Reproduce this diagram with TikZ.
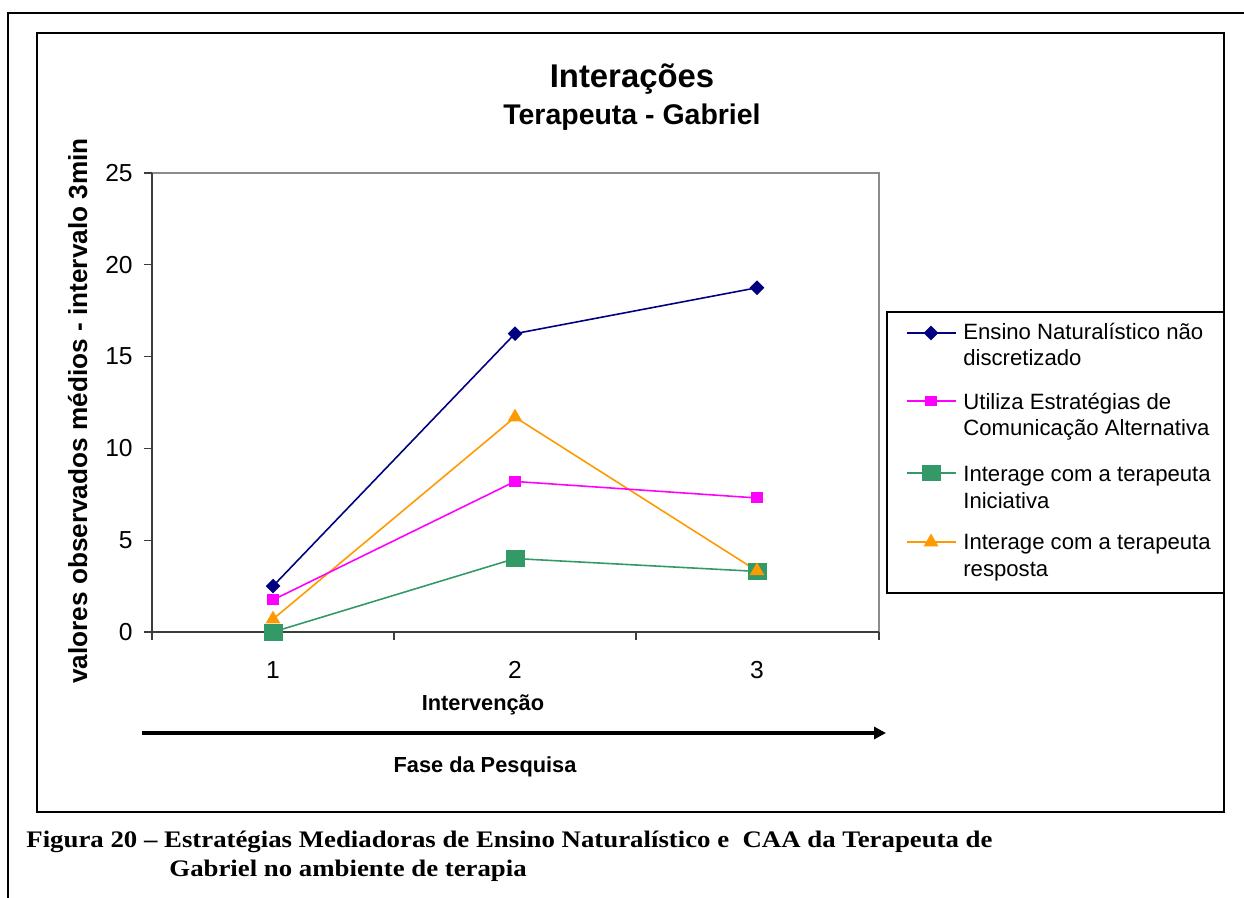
\documentclass[tikz,border=0pt]{standalone}
\usepackage{fontspec}
\setmainfont{Liberation Serif}
\setsansfont{Liberation Sans}
\usetikzlibrary{shapes.geometric, arrows.meta}

\definecolor{serieBlue}{HTML}{000080}
\definecolor{seriePink}{HTML}{FF00FF}
\definecolor{serieGreen}{HTML}{339966}
\definecolor{serieOrange}{HTML}{FF9900}
\definecolor{frameGray}{HTML}{8C8C8C}
\definecolor{axisGray}{HTML}{3C3C3C}

\tikzstyle{outerFrame} = [draw=black, line width=1.1pt]
\tikzstyle{chartFrame} = [draw=black, line width=0.7pt]
\tikzstyle{plotFrame} = [draw=frameGray, line width=0.6pt]
\tikzstyle{axisLine} = [draw=axisGray, line width=0.7pt]
\tikzstyle{titleText} = [text=black, inner sep=0pt,
	font=\sffamily\bfseries\fontsize{18.7}{22}\selectfont]
\tikzstyle{subtitleText} = [text=black, inner sep=0pt,
	font=\sffamily\bfseries\fontsize{16.2}{19}\selectfont]
\tikzstyle{tickText} = [text=black, inner sep=0pt,
	font=\sffamily\fontsize{14}{16}\selectfont]
\tikzstyle{axisTitle} = [text=black, inner sep=0pt,
	font=\sffamily\bfseries\fontsize{12.4}{15}\selectfont]
\tikzstyle{yAxisTitle} = [text=black, inner sep=0pt,
	font=\sffamily\bfseries\fontsize{14.9}{17}\selectfont]
\tikzstyle{legendText} = [text=black, inner sep=0pt, align=left,
	font=\sffamily\fontsize{12.6}{15.3}\selectfont]
\tikzstyle{captionText} = [text=black, inner sep=0pt, xscale=1.13,
	font=\rmfamily\bfseries\fontsize{13.5}{15}\selectfont]
\tikzstyle{phaseArrow} = [draw=black, line width=2.3pt,
	-{Triangle[length=0.24cm, width=0.24cm]}]
\tikzstyle{blueLine} = [draw=serieBlue, line width=0.9pt]
\tikzstyle{pinkLine} = [draw=seriePink, line width=0.9pt]
\tikzstyle{greenLine} = [draw=serieGreen, line width=0.9pt]
\tikzstyle{orangeLine} = [draw=serieOrange, line width=0.9pt]
\tikzstyle{blueMark} = [shape=diamond, aspect=1, fill=serieBlue, inner sep=0pt,
	minimum size=0.3cm]
\tikzstyle{pinkMark} = [shape=rectangle, fill=seriePink, inner sep=0pt,
	minimum width=0.24cm, minimum height=0.22cm]
\tikzstyle{greenMark} = [shape=rectangle, fill=serieGreen, inner sep=0pt,
	minimum width=0.38cm, minimum height=0.34cm]
\tikzstyle{orangeMark} = [shape=regular polygon, regular polygon sides=3,
	fill=serieOrange, inner sep=0pt, minimum size=0.34cm]

\begin{document}
\begin{tikzpicture}[x=0.02cm, y=-0.02cm]
  \useasboundingbox (0,0) rectangle (1244,898);
  \draw [outerFrame] (8,898) -- (8,13) -- (1244,13);
  \draw [chartFrame] (37,33) rectangle (1224,812);

  \node (TITLE) [titleText, anchor=base] at (632,88) {Interações};
  \node (SUBTITLE) [subtitleText, anchor=base] at (632,125) {Terapeuta - Gabriel};

  % plot area and axes
  \draw [plotFrame] (152,173) -- (879,173) -- (879,632);
  \draw [axisLine] (152,173) -- (152,632) -- (879,632);
  \draw [axisLine] (144,173) -- (152,173);
  \draw [axisLine] (144,264.8) -- (152,264.8);
  \draw [axisLine] (144,356.6) -- (152,356.6);
  \draw [axisLine] (144,448.4) -- (152,448.4);
  \draw [axisLine] (144,540.2) -- (152,540.2);
  \draw [axisLine] (144,632) -- (152,632);
  \draw [axisLine] (152,632) -- (152,640);
  \draw [axisLine] (394,632) -- (394,640);
  \draw [axisLine] (636,632) -- (636,640);
  \draw [axisLine] (879,632) -- (879,640);

  \node (Y25) [tickText, anchor=east] at (133,173) {25};
  \node (Y20) [tickText, anchor=east] at (133,264.8) {20};
  \node (Y15) [tickText, anchor=east] at (133,356.6) {15};
  \node (Y10) [tickText, anchor=east] at (133,448.4) {10};
  \node (Y05) [tickText, anchor=east] at (133,540.2) {5};
  \node (Y00) [tickText, anchor=east] at (133,632) {0};
  \node (X1) [tickText, anchor=base] at (273,678) {1};
  \node (X2) [tickText, anchor=base] at (515,678) {2};
  \node (X3) [tickText, anchor=base] at (757,678) {3};

  \node (YLABEL) [yAxisTitle, rotate=90, anchor=base] at (87,411)
    {valores observados médios - intervalo 3min};
  \node (XLABEL) [axisTitle, anchor=base] at (483,710) {Intervenção};

  \coordinate (FASESTART) at (142,733);
  \coordinate (FASEEND) at (886,733);
  \draw [phaseArrow] (FASESTART) -- (FASEEND);
  \node (FASE) [axisTitle, anchor=base] at (485,772) {Fase da Pesquisa};

  % series values
  \begin{scope}[shift={(152,632)}, yscale=-18.36]
    \coordinate (ENS1) at (121,2.5);
    \coordinate (ENS2) at (363,16.25);
    \coordinate (ENS3) at (605,18.75);
    \coordinate (CAA1) at (121,1.75);
    \coordinate (CAA2) at (363,8.2);
    \coordinate (CAA3) at (605,7.3);
    \coordinate (INI1) at (121,0);
    \coordinate (INI2) at (363,4);
    \coordinate (INI3) at (605,3.3);
    \coordinate (RES1) at (121,0.7);
    \coordinate (RES2) at (363,11.7);
    \coordinate (RES3) at (605,3.33);
  \end{scope}

  \draw [greenLine] (INI1) -- (INI2) -- (INI3);
  \draw [orangeLine] (RES1) -- (RES2) -- (RES3);
  \draw [pinkLine] (CAA1) -- (CAA2) -- (CAA3);
  \draw [blueLine] (ENS1) -- (ENS2) -- (ENS3);

  \node (MINI1) [greenMark] at (INI1) {};
  \node (MINI2) [greenMark] at (INI2) {};
  \node (MINI3) [greenMark] at (INI3) {};
  \node (MCAA1) [pinkMark] at (CAA1) {};
  \node (MCAA2) [pinkMark] at (CAA2) {};
  \node (MCAA3) [pinkMark] at (CAA3) {};
  \node (MRES1) [orangeMark] at (RES1) {};
  \node (MRES2) [orangeMark] at (RES2) {};
  \node (MRES3) [orangeMark] at (RES3) {};
  \node (MENS1) [blueMark] at (ENS1) {};
  \node (MENS2) [blueMark] at (ENS2) {};
  \node (MENS3) [blueMark] at (ENS3) {};

  % legend
  \draw [chartFrame] (887,312) rectangle (1224,593);
  \coordinate (LENSA) at (907,333);
  \coordinate (LENSB) at (956,333);
  \draw [blueLine] (LENSA) -- (LENSB);
  \node (LMENS) [blueMark] at (931,333) {};
  \node (LTENS) [legendText, anchor=base west] at (963,366)
    {Ensino Naturalístico não\\discretizado};
  \coordinate (LCAAA) at (907,401);
  \coordinate (LCAAB) at (956,401);
  \draw [pinkLine] (LCAAA) -- (LCAAB);
  \node (LMCAA) [pinkMark] at (931,401) {};
  \node (LTCAA) [legendText, anchor=base west] at (963,436)
    {Utiliza Estratégias de\\Comunicação Alternativa};
  \coordinate (LINIA) at (907,473);
  \coordinate (LINIB) at (956,473);
  \draw [greenLine] (LINIA) -- (LINIB);
  \node (LMINI) [greenMark] at (931,473) {};
  \node (LTINI) [legendText, anchor=base west] at (963,508)
    {Interage com a terapeuta\\Iniciativa};
  \coordinate (LRESA) at (907,542);
  \coordinate (LRESB) at (956,542);
  \draw [orangeLine] (LRESA) -- (LRESB);
  \node (LMRES) [orangeMark] at (931,542) {};
  \node (LTRES) [legendText, anchor=base west] at (963,576)
    {Interage com a terapeuta\\resposta};

  \node (CAPA) [captionText, anchor=base west] at (26,847)
    {Figura 20 – Estratégias Mediadoras de Ensino Naturalístico e~ CAA da Terapeuta de};
  \node (CAPB) [captionText, anchor=base west] at (169,876)
    {Gabriel no ambiente de terapia};
\end{tikzpicture}
\end{document}
